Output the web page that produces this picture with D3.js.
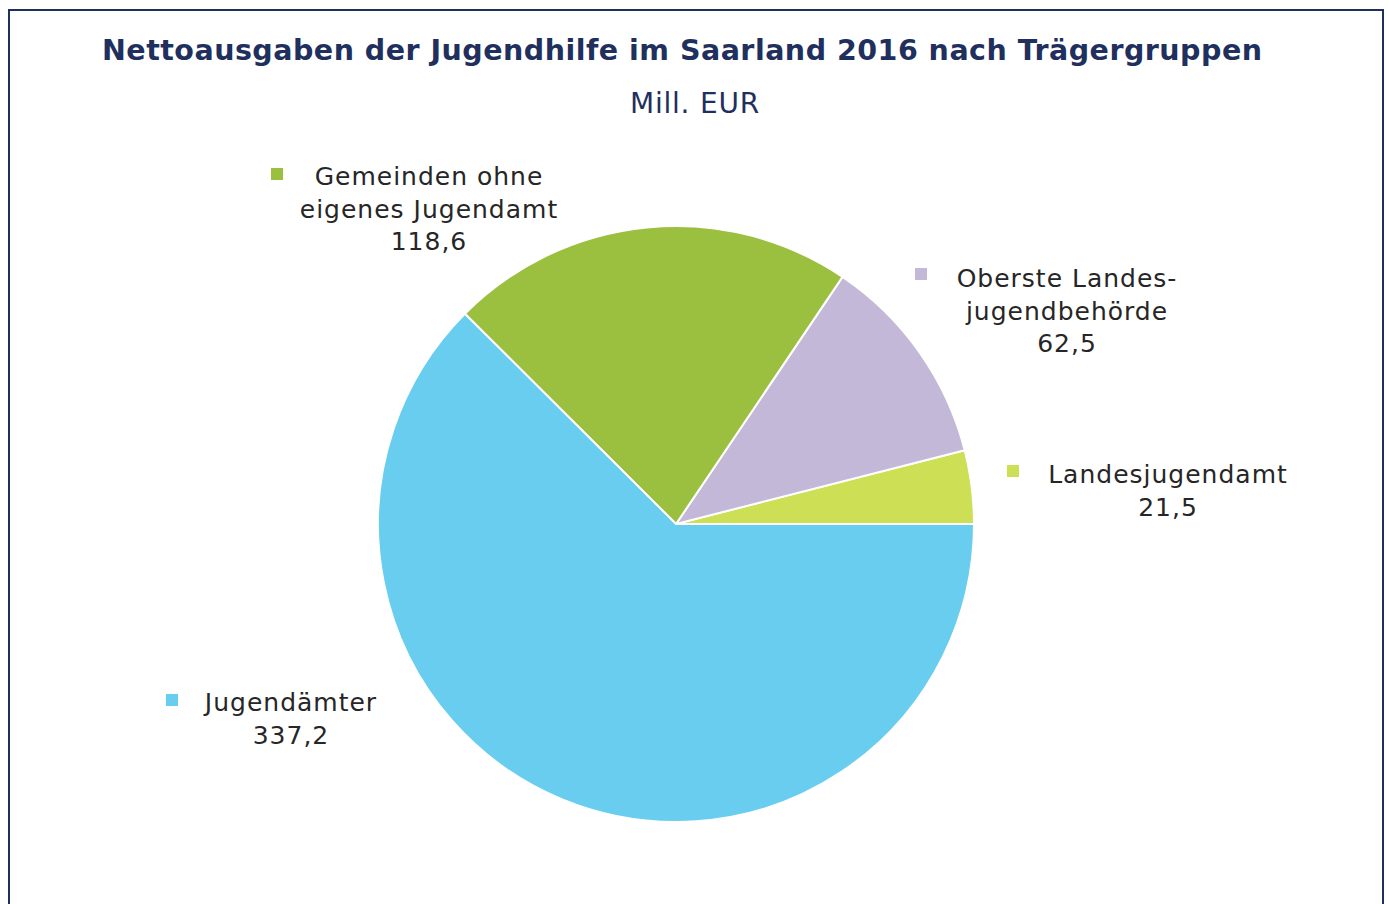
<!DOCTYPE html>
<html lang="de">
<head>
  <meta charset="UTF-8">
  <title>Nettoausgaben der Jugendhilfe</title>
  <script src="https://cdn.jsdelivr.net/npm/d3@7"></script>
  <style>
    body { margin: 0; background: #fff; }
    svg { display: block; font-family: "DejaVu Sans", Verdana, sans-serif; }
  </style>
</head>
<body>
  <svg width="1389" height="904"></svg>
  <script>
    // data, in drawing order (counter-clockwise from 3 o'clock)
    const categories = ['Landesjugendamt', 'Oberste Landesjugendbehörde', 'Gemeinden ohne eigenes Jugendamt', 'Jugendämter'];
    const values = [21.5, 62.5, 118.6, 337.2];
    const labelLines = [
      ['Landesjugendamt', '21,5'],
      ['Oberste Landes-', 'jugendbehörde', '62,5'],
      ['Gemeinden ohne', 'eigenes Jugendamt', '118,6'],
      ['Jugendämter', '337,2']
    ];
    const colors = ['#cddf55', '#c3b8d8', '#9bc03f', '#69cdf0'];

    const width = 1389, height = 904;
    const cx = 676, cy = 524, radius = 298;

    const svg = d3.select('svg');

    // frame
    svg.append('rect')
      .attr('x', 9).attr('y', 10)
      .attr('width', 1374).attr('height', 920)
      .attr('fill', 'none')
      .attr('stroke', '#1f2f5e')
      .attr('stroke-width', 2);

    // titles
    svg.append('text')
      .attr('x', 682).attr('y', 60)
      .attr('text-anchor', 'middle')
      .attr('font-size', 28.5)
      .attr('font-weight', 'bold')
      .attr('fill', '#1f2f5e')
      .attr('textLength', 1160)
      .attr('lengthAdjust', 'spacing')
      .text('Nettoausgaben der Jugendhilfe im Saarland 2016 nach Trägergruppen');

    svg.append('text')
      .attr('x', 695).attr('y', 113)
      .attr('text-anchor', 'middle')
      .attr('font-size', 28)
      .attr('letter-spacing', 0.8)
      .attr('fill', '#1f2f5e')
      .text('Mill. EUR');

    // pie
    const pie = d3.pie()
      .sort(null)
      .startAngle(Math.PI / 2)
      .endAngle(Math.PI / 2 - 2 * Math.PI);

    const arc = d3.arc().innerRadius(0).outerRadius(radius);

    const g = svg.append('g').attr('transform', 'translate(' + cx + ',' + cy + ')');

    g.selectAll('path')
      .data(pie(values))
      .enter()
      .append('path')
      .attr('d', arc)
      .attr('fill', (d, i) => colors[i])
      .attr('stroke', 'white')
      .attr('stroke-width', 2);

    // labels (text center x, first baseline y, marker x, marker y)
    const labelPos = [
      { x: 1168, y: 483, mx: 1007, my: 465 },
      { x: 1067, y: 287, mx: 915, my: 268 },
      { x: 429, y: 185, mx: 271, my: 168 },
      { x: 291, y: 711, mx: 166, my: 694 }
    ];

    labelLines.forEach((lines, i) => {
      const p = labelPos[i];
      svg.append('rect')
        .attr('x', p.mx).attr('y', p.my)
        .attr('width', 12).attr('height', 12)
        .attr('fill', colors[i]);
      const t = svg.append('text')
        .attr('text-anchor', 'middle')
        .attr('font-size', 25)
        .attr('letter-spacing', 1)
        .attr('fill', '#262626');
      lines.forEach((s, k) => {
        t.append('tspan')
          .attr('x', p.x)
          .attr('y', p.y + k * 32.5)
          .text(s);
      });
    });
  </script>
</body>
</html>
